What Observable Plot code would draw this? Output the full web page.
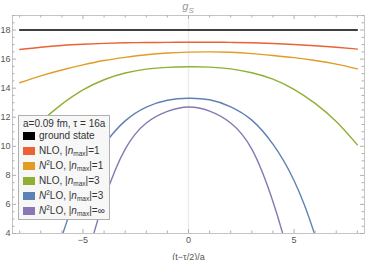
<!DOCTYPE html>
<html>
<head>
<meta charset="utf-8">
<script src="https://cdn.jsdelivr.net/npm/d3@7"></script>
<script src="https://cdn.jsdelivr.net/npm/@observablehq/plot@0.6"></script>
<style>
  body { margin: 0; background: #fff; }
  #wrap { position: relative; width: 366px; height: 260px; font-family: "Liberation Sans", Arial, sans-serif; }
  #title { position: absolute; left: 12px; width: 352px; top: 0px; text-align: center; color: #999; font-size: 11px; line-height: 13px; }
  #legend { position: absolute; left: 18px; top: 115px; width: 92px; height: 105px; background: #f7f7f7; border: 1px solid #b0b0b0; box-sizing: border-box; font-size: 10px; color: #333; }
  #legend .t { position: absolute; left: 4px; top: 2px; white-space: nowrap; }
  #legend .row { position: absolute; left: 4px; height: 15px; line-height: 15px; white-space: nowrap; }
  #legend .sw { display: inline-block; width: 12px; height: 8px; vertical-align: -1px; margin-right: 4px; }
  #legend sub { font-size: 6.5px; vertical-align: -2px; line-height: 0; }
  #legend sup { font-size: 6.5px; vertical-align: 4px; line-height: 0; }
</style>
</head>
<body>
<div id="wrap">
  <div id="chart"></div>
  <div id="title"><i>g</i><sub style="font-size:8px;font-style:italic;line-height:0;">S</sub></div>
  <div id="legend"></div>
</div>
<script>
// x positions (t - tau/2)/a
const xs = [-8, -7, -6, -5, -4, -3, -2, -1, 0, 1, 2, 3, 4, 5, 6, 7, 8];
// series values
const groundState = [18, 18, 18, 18, 18, 18, 18, 18, 18, 18, 18, 18, 18, 18, 18, 18, 18];
const nloN1   = [16.66, 16.82, 16.94, 17.02, 17.08, 17.12, 17.14, 17.15, 17.16, 17.16, 17.15, 17.12, 17.07, 17.0, 16.92, 16.82, 16.69];
const n2loN1  = [14.37, 14.85, 15.25, 15.6, 15.9, 16.12, 16.3, 16.42, 16.48, 16.5, 16.47, 16.38, 16.25, 16.1, 15.9, 15.65, 15.33];
const nloN3   = [10.0, 11.65, 12.9, 13.88, 14.58, 15.04, 15.31, 15.43, 15.47, 15.45, 15.33, 15.06, 14.62, 13.92, 12.95, 11.7, 10.1];
const n2loN3  = [-8, -1.5, 3.8, 7.6, 10.1, 11.75, 12.7, 13.17, 13.31, 13.2, 12.72, 11.8, 10.15, 7.65, 3.85, -1.5, -8];
const n2loInf = [-22, -14, -6.5, 1.0, 6.3, 9.8, 11.6, 12.4, 12.7, 12.42, 11.6, 9.8, 6.2, 0.9, -6.5, -14, -22];

const seriesNames = ["ground state", "NLO, |n_max|=1", "N2LO, |n_max|=1", "NLO, |n_max|=3", "N2LO, |n_max|=3", "N2LO, |n_max|=inf"];
const seriesValues = [groundState, nloN1, n2loN1, nloN3, n2loN3, n2loInf];
const seriesColors = ["#000000", "#EB6235", "#E19C24", "#8FB032", "#5E81B5", "#8778B3"];
const legendLabels = [
  "ground state",
  "NLO, |<i>n</i><sub>max</sub>|=1",
  "<i>N</i><sup>2</sup>LO, |<i>n</i><sub>max</sub>|=1",
  "NLO, |<i>n</i><sub>max</sub>|=3",
  "<i>N</i><sup>2</sup>LO, |<i>n</i><sub>max</sub>|=3",
  "<i>N</i><sup>2</sup>LO, |<i>n</i><sub>max</sub>|=∞"
];
const legendTitle = "a=0.09 fm, τ = 16a";

const xMajor = [-5, 0, 5];
const xMinor = [-8, -7, -6, -4, -3, -2, -1, 1, 2, 3, 4, 6, 7, 8];
const yMajor = [4, 6, 8, 10, 12, 14, 16, 18];
const yMinor = d3.range(4, 19.01, 0.5).filter(v => v % 2 !== 0);

const rows = [];
seriesValues.forEach((vals, i) => vals.forEach((v, j) => rows.push({x: xs[j], y: v, s: seriesNames[i]})));

const W = 366, H = 260, mL = 12, mR = 2, mT = 15, mB = 27;
const fw = W - mL - mR, fh = H - mT - mB;
const tickCol = "#b0b0b0";

const chart = Plot.plot({
  width: W, height: H,
  marginLeft: mL, marginRight: mR, marginTop: mT, marginBottom: mB,
  x: {domain: [-8.34, 8.34]},
  y: {domain: [4, 19]},
  color: {domain: seriesNames, range: seriesColors},
  style: {fontFamily: "Liberation Sans, Arial, sans-serif", fontSize: "9px", background: "white"},
  marks: [
    Plot.ruleX([0], {stroke: "#ececec", strokeWidth: 1.5}),
    Plot.line(rows, {x: "x", y: "y", z: "s", stroke: "s", strokeWidth: 1.4, curve: "natural", clip: true}),
    Plot.frame({stroke: "#c4c4c4"}),
    // inward ticks on all four sides
    Plot.tickY(yMajor, {y: d => d, insetRight: fw - 4, stroke: tickCol}),
    Plot.tickY(yMinor, {y: d => d, insetRight: fw - 2.5, stroke: tickCol}),
    Plot.tickY(yMajor, {y: d => d, insetLeft: fw - 4, stroke: tickCol}),
    Plot.tickY(yMinor, {y: d => d, insetLeft: fw - 2.5, stroke: tickCol}),
    Plot.tickX(xMajor, {x: d => d, insetTop: fh - 4, stroke: tickCol}),
    Plot.tickX(xMinor, {x: d => d, insetTop: fh - 2.5, stroke: tickCol}),
    Plot.tickX(xMajor, {x: d => d, insetBottom: fh - 4, stroke: tickCol}),
    Plot.tickX(xMinor, {x: d => d, insetBottom: fh - 2.5, stroke: tickCol}),
    Plot.axisY({ticks: yMajor, tickSize: 0, tickPadding: 2, label: null, color: "#555", fontSize: 9}),
    Plot.axisX({ticks: xMajor, tickSize: 0, tickPadding: 3, label: "(t−τ/2)/a", labelAnchor: "center", labelArrow: "none", labelOffset: 26, color: "#555", fontSize: 9})
  ]
});
document.getElementById("chart").appendChild(chart);

const lg = document.getElementById("legend");
let html = `<div class="t">${legendTitle}</div>`;
legendLabels.forEach((lab, i) => {
  html += `<div class="row" style="top:${12 + i * 15}px"><span class="sw" style="background:${seriesColors[i]}"></span>${lab}</div>`;
});
lg.innerHTML = html;
</script>
</body>
</html>
